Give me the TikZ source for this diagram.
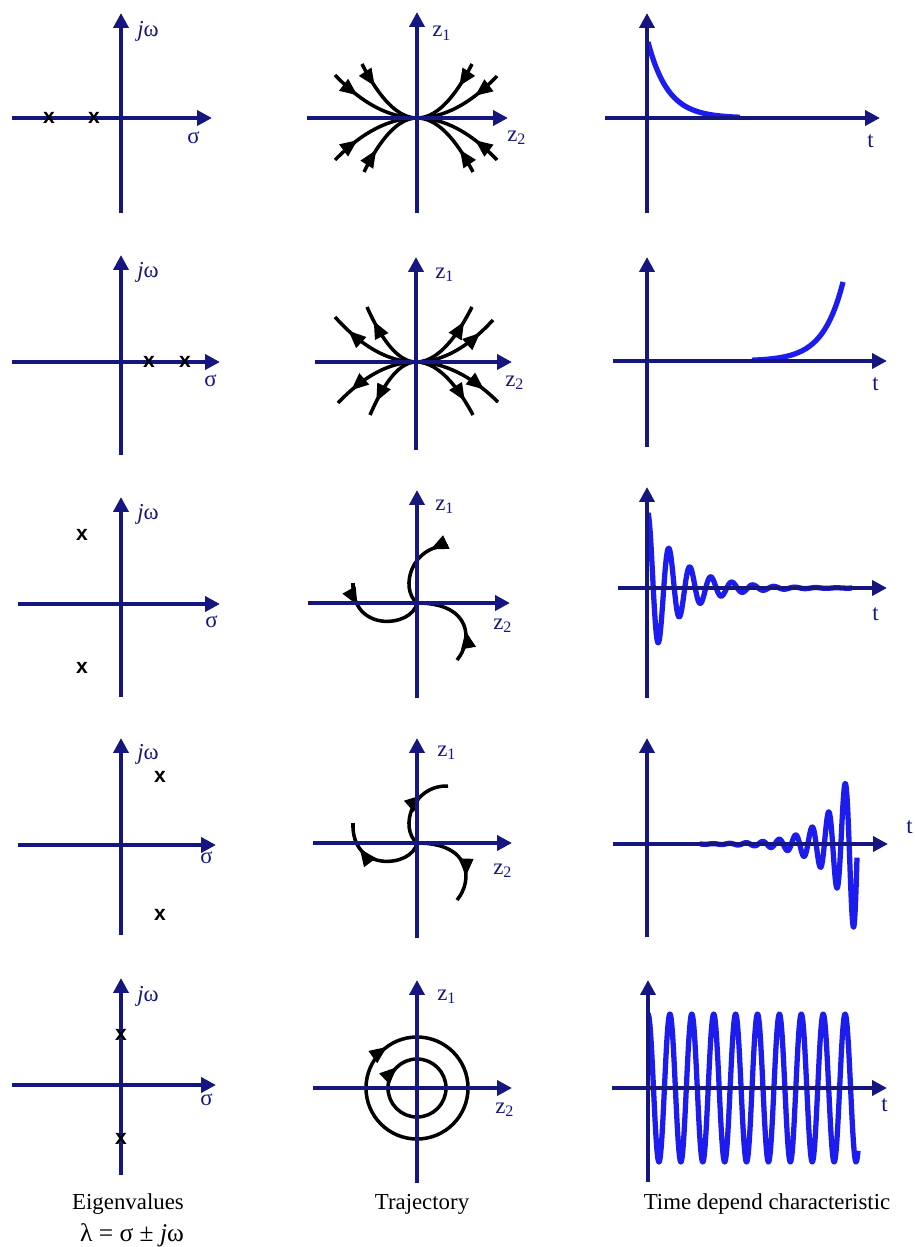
\documentclass[tikz,border=0pt]{standalone}
\usepackage{fontspec}
\setmainfont{Liberation Serif}
\setsansfont{Liberation Sans}
\usetikzlibrary{
  arrows.meta,
  decorations.markings
}
\definecolor{axiscolor}{RGB}{22, 22, 128}
\definecolor{curvecolor}{RGB}{28, 28, 238}
\definecolor{labelcolor}{RGB}{22, 22, 128}
\definecolor{trajcolor}{RGB}{0, 0, 0}
\tikzset{
axisline/.style={
  draw=axiscolor,
  line width=2.3pt,
  -{Triangle[length=8.5pt,width=8.5pt]}
},
axislabel/.style={
  font=\fontsize{13}{15}\selectfont,
  text=labelcolor,
  inner sep=0pt
},
eigmark/.style={
  font=\fontsize{12}{14}\selectfont\bfseries\sffamily,
  text=black,
  inner sep=0pt
},
captiontext/.style={
  font=\fontsize{13}{15}\selectfont,
  text=black,
  inner sep=0pt
},
traj/.style={
  draw=trajcolor,
  line width=2pt
},
trajarrow/.style={
  traj,
  postaction={decorate},
  decoration={markings,
    mark=at position #1 with {\arrow{Triangle[length=10pt,width=8pt]}}}
},
timecurve/.style={
  draw=curvecolor,
  line width=3pt,
  line join=round
}
}

\begin{document}
\begin{tikzpicture}[x=0.02cm, y=-0.02cm]
  \useasboundingbox (0,0) rectangle (914,1247);

  % --- Row 1: stable node ---
  \draw[axisline] (12,118) -- (212,118);
  \draw[axisline] (121,213) -- (121,13);
  \node[axislabel, anchor=base west] (jw1) at (137,37) {{\itshape j}ω};
  \node[axislabel, anchor=base west] (sig1) at (187,143) {σ};
  \node[eigmark] (ev1a) at (49,118) {x};
  \node[eigmark] (ev1b) at (94,118) {x};

  \begin{scope}[shift={(417,118)}]
    \foreach \dx/\dy in {-82/-43, -55/-54, 55/-54, 80/-42, -82/42, -53/54, 56/54, 80/42}
      \draw[trajarrow=0.32] (\dx,\dy) .. controls ({2*\dx/3},{\dy/3}) and ({\dx/3},0) .. (0,0);
  \end{scope}
  \draw[axisline] (307,118) -- (508,118);
  \draw[axisline] (417,213) -- (417,12);
  \node[axislabel, anchor=base west] (za1) at (432,37) {z\textsubscript{1}};
  \node[axislabel, anchor=base west] (zb1) at (507,141) {z\textsubscript{2}};

  \draw[timecurve] plot[domain=648:740, samples=80] (\x, {118-76*exp(-(\x-648)/20)});
  \draw[axisline] (605,118) -- (880,118);
  \draw[axisline] (647,213) -- (647,13);
  \node[axislabel, anchor=base west] (t1) at (867,148) {t};

  % --- Row 2: unstable node ---
  \draw[axisline] (12,362) -- (220,362);
  \draw[axisline] (121,455) -- (121,255);
  \node[axislabel, anchor=base west] (jw2) at (137,277) {{\itshape j}ω};
  \node[axislabel, anchor=base west] (sig2) at (204,386) {σ};
  \node[eigmark] (ev2a) at (149,362) {x};
  \node[eigmark] (ev2b) at (185,362) {x};

  \begin{scope}[shift={(416,362)}]
    \foreach \dx/\dy in {-81/-45, -49/-55, 56/-55, 77/-42, -78/41, -46/53, 57/53, 82/40}
      \draw[trajarrow=0.8] (0,0) .. controls ({\dx/3},0) and ({2*\dx/3},{\dy/3}) .. (\dx,\dy);
  \end{scope}
  \draw[axisline] (315,362) -- (512,362);
  \draw[axisline] (416,450) -- (416,257);
  \node[axislabel, anchor=base west] (za2) at (435,278) {z\textsubscript{1}};
  \node[axislabel, anchor=base west] (zb2) at (505,386) {z\textsubscript{2}};

  \draw[timecurve] plot[domain=752:843, samples=80] (\x, {361-79*exp((\x-843)/20)});
  \draw[axisline] (613,361) -- (887,361);
  \draw[axisline] (647,447) -- (647,257);
  \node[axislabel, anchor=base west] (t2) at (872,390) {t};

  % --- Row 3: stable focus ---
  \draw[axisline] (18,604) -- (220,604);
  \draw[axisline] (121,697) -- (121,497);
  \node[axislabel, anchor=base west] (jw3) at (137,519) {{\itshape j}ω};
  \node[axislabel, anchor=base west] (sig3) at (205,627) {σ};
  \node[eigmark] (ev3a) at (82,535) {x};
  \node[eigmark] (ev3b) at (82,668) {x};

  \begin{scope}[shift={(417,603)}]
    \draw[trajarrow=0.22] (31,-57) .. controls (-5,-58) and (-18,-15) .. (0,0);
    \draw[trajarrow=0.24] (-64,-20) .. controls (-66,30) and (-5,25) .. (0,0);
    \draw[trajarrow=0.34] (40,57) .. controls (56,38) and (55,0) .. (0,0);
  \end{scope}
  \draw[axisline] (308,603) -- (510,603);
  \draw[axisline] (417,698) -- (417,490);
  \node[axislabel, anchor=base west] (za3) at (435,510) {z\textsubscript{1}};
  \node[axislabel, anchor=base west] (zb3) at (493,629) {z\textsubscript{2}};

  \draw[timecurve] plot[domain=648:852, samples=400] (\x, {588-75*exp(-(\x-648)/33)*cos((\x-648)/21*360)});
  \draw[axisline] (618,588) -- (887,588);
  \draw[axisline] (647,698) -- (647,487);
  \node[axislabel, anchor=base west] (t3) at (872,620) {t};

  % --- Row 4: unstable focus ---
  \draw[axisline] (18,845) -- (216,845);
  \draw[axisline] (121,935) -- (121,738);
  \node[axislabel, anchor=base west] (jw4) at (137,759) {{\itshape j}ω};
  \node[axislabel, anchor=base west] (sig4) at (200,863) {σ};
  \node[eigmark] (ev4a) at (160,777) {x};
  \node[eigmark] (ev4b) at (160,915) {x};

  \begin{scope}[shift={(417,843)}]
    \draw[trajarrow=0.66] (0,0) .. controls (-18,-15) and (-5,-58) .. (31,-57);
    \draw[trajarrow=0.72] (0,0) .. controls (-5,25) and (-66,30) .. (-64,-20);
    \draw[trajarrow=0.72] (0,0) .. controls (55,0) and (56,38) .. (40,57);
  \end{scope}
  \draw[axisline] (313,843) -- (512,843);
  \draw[axisline] (417,938) -- (417,738);
  \node[axislabel, anchor=base west] (za4) at (437,756) {z\textsubscript{1}};
  \node[axislabel, anchor=base west] (zb4) at (493,874) {z\textsubscript{2}};

  \draw[timecurve] plot[domain=700:857, samples=400] (\x, {844-82*exp((\x-853)/26)*cos((\x-845)/16.5*360)});
  \draw[axisline] (613,844) -- (888,844);
  \draw[axisline] (647,937) -- (647,738);
  \node[axislabel, anchor=base west] (t4) at (906,833) {t};

  % --- Row 5: centre ---
  \draw[axisline] (12,1085) -- (216,1085);
  \draw[axisline] (121,1175) -- (121,978);
  \node[axislabel, anchor=base west] (jw5) at (137,1001) {{\itshape j}ω};
  \node[axislabel, anchor=base west] (sig5) at (200,1105) {σ};
  \node[eigmark] (ev5a) at (121,1035) {x};
  \node[eigmark] (ev5b) at (121,1139) {x};

  \begin{scope}[shift={(417,1088)}]
    \draw[trajarrow=0.65] (51,0) arc[start angle=0, end angle=360, radius=51];
    \draw[trajarrow=0.63] (29,0) arc[start angle=0, end angle=360, radius=29];
  \end{scope}
  \draw[axisline] (313,1088) -- (512,1088);
  \draw[axisline] (417,1183) -- (417,980);
  \node[axislabel, anchor=base west] (za5) at (437,1000) {z\textsubscript{1}};
  \node[axislabel, anchor=base west] (zb5) at (495,1113) {z\textsubscript{2}};

  \draw[timecurve] plot[domain=648:858, samples=500] (\x, {1088-74*cos((\x-648)/21.9*360)});
  \draw[axisline] (612,1088) -- (887,1088);
  \draw[axisline] (648,1182) -- (648,980);
  \node[axislabel, anchor=base west] (t5) at (881,1111) {t};

  % --- captions ---
  \node[captiontext, anchor=base] (capeig) at (128,1209) {Eigenvalues};
  \node[captiontext, anchor=base, font=\fontsize{14.5}{16}\selectfont] (caplam) at (132,1241) {λ = σ ± {\itshape j}ω};
  \node[captiontext, anchor=base] (captraj) at (422,1209) {Trajectory};
  \node[captiontext, anchor=base] (captime) at (767,1209) {Time depend characteristic};
\end{tikzpicture}
\end{document}
